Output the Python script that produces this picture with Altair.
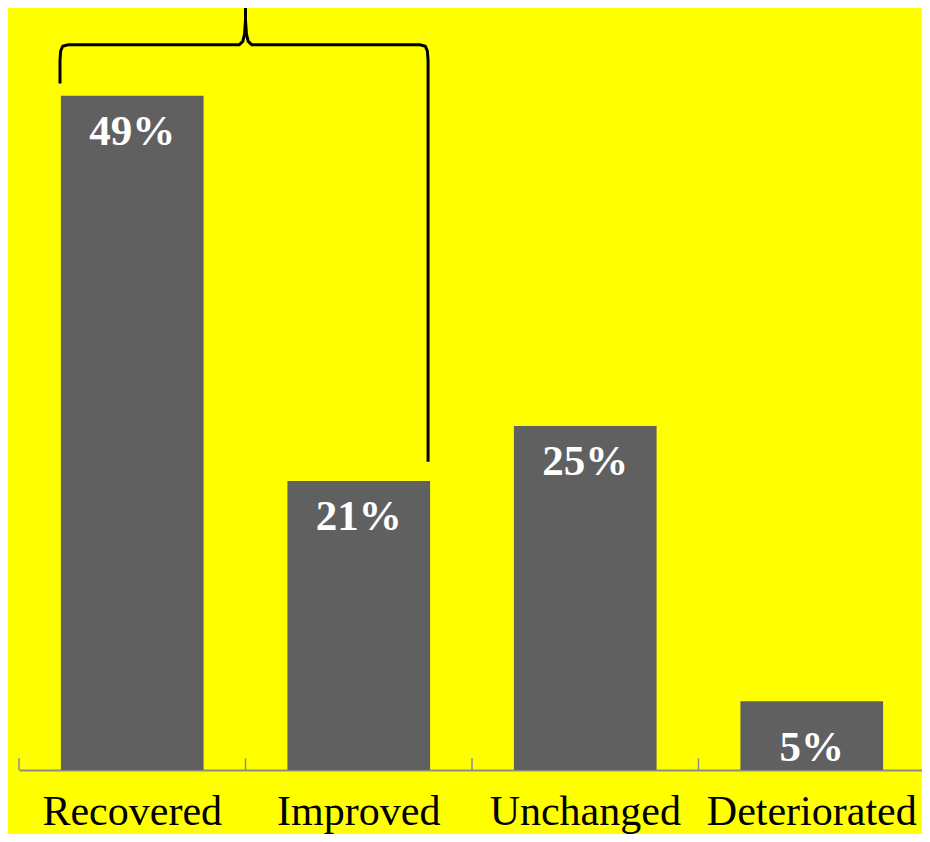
import altair as alt
import pandas as pd

# Data
categories = ["Recovered", "Improved", "Unchanged", "Deteriorated"]
values = [49, 21, 25, 5]
labels = ["49%", "21%", "25%", "5%"]

# Category boundaries (in band units) for the upward axis ticks
tick_pos = [0, 1, 2, 3, 4]
tick_top = [0.85, 0.85, 0.85, 0.85, 0.85]

# Curly bracket over "Recovered" + "Improved" (x in band units, y in %)
bracket_x = [0.181, 0.181, 0.184, 0.193, 0.215, 0.972, 0.988, 0.996, 1.0, 1.0,
             1.0, 1.004, 1.012, 1.028, 1.772, 1.794, 1.803, 1.806, 1.806]
bracket_y = [49.9, 51.6, 52.25, 52.6, 52.7, 52.7, 52.95, 53.5, 54.5, 55.45,
             54.5, 53.5, 52.95, 52.7, 52.7, 52.6, 52.25, 51.6, 22.4]

df = pd.DataFrame({"cat": categories, "value": values, "label": labels})
tdf = pd.DataFrame({"tx": tick_pos, "y0": [0] * len(tick_pos), "y1": tick_top})
bdf = pd.DataFrame({"bx": bracket_x, "by": bracket_y, "i": list(range(len(bracket_x)))})

PLOT_W = 906
yscale = alt.Scale(domain=[0, 50], nice=False)
xq = alt.Scale(domain=[0, 4], nice=False, zero=False, range=[0, PLOT_W])

bars = alt.Chart(df).mark_bar(color="#606060").encode(
    x=alt.X("cat:N", sort=categories,
            scale=alt.Scale(paddingInner=0.37, paddingOuter=0.185, range=[0, PLOT_W]),
            axis=alt.Axis(title=None, labelAngle=0, labelFont="Liberation Serif",
                          labelFontSize=42, labelColor="black", labelPadding=21,
                          labelLimit=0, ticks=False, domain=True,
                          domainColor="#8C8C8C", domainWidth=2, grid=False)),
    y=alt.Y("value:Q", scale=yscale, axis=None),
)

text = alt.Chart(df).transform_calculate(
    ly="datum.value < 10 ? 1.6 : datum.value - 2.6"
).mark_text(font="Liberation Serif", fontSize=43, fontWeight="bold",
            color="white", baseline="middle").encode(
    x=alt.X("cat:N", sort=categories,
            scale=alt.Scale(padding=0.5, range=[0, PLOT_W]), axis=None),
    y=alt.Y("ly:Q", scale=yscale, axis=None),
    text="label:N",
)

ticks = alt.Chart(tdf).mark_rule(color="#8C8C8C", strokeWidth=1.5).encode(
    x=alt.X("tx:Q", scale=xq, axis=None),
    y=alt.Y("y0:Q", scale=yscale, axis=None),
    y2="y1:Q",
)

bracket = alt.Chart(bdf).mark_line(color="black", strokeWidth=3,
                                   strokeJoin="round").encode(
    x=alt.X("bx:Q", scale=xq, axis=None),
    y=alt.Y("by:Q", scale=yscale, axis=None),
    order="i:Q",
)

chart = alt.layer(bars, text, ticks, bracket).resolve_scale(
    x="independent"
).properties(
    width=903, height=688,
    padding={"left": 11, "top": 74, "right": 0, "bottom": 64},
    autosize=alt.AutoSizeParams(type="none"),
    background="#FFFF00",
).configure_view(strokeWidth=0, stroke="transparent")

chart.save("out.html", embed_options={"renderer": "svg", "actions": False})
